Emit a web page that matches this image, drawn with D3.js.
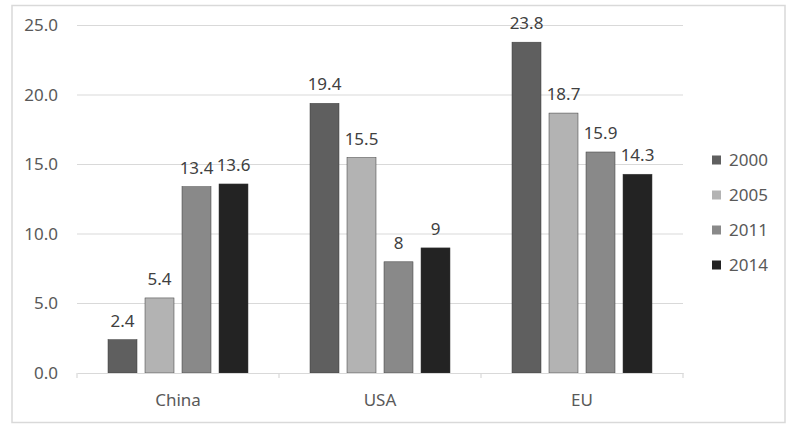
<!DOCTYPE html>
<html>
<head>
<meta charset="utf-8">
<script src="https://cdn.jsdelivr.net/npm/d3@7"></script>
<style>
  body { margin: 0; background: #fff; }
  text { font-family: "Noto Sans", "Open Sans", sans-serif; }
</style>
</head>
<body>
<div class="chart"></div>
<script>
var regions = ["China", "USA", "EU"];
var years = ["2000", "2005", "2011", "2014"];
var v2000 = [2.4, 19.4, 23.8];
var v2005 = [5.4, 15.5, 18.7];
var v2011 = [13.4, 8, 15.9];
var v2014 = [13.6, 9, 14.3];
var yTicks = [0, 5, 10, 15, 20, 25];
var colors = ["#5f5f5f", "#b3b3b3", "#898989", "#232323"];

var series = [v2000, v2005, v2011, v2014];

var svgWidth = 800, svgHeight = 431;
var margin = {top: 25.5, left: 77, right: 117, bottom: 58};
var width = svgWidth - margin.left - margin.right;
var height = svgHeight - margin.top - margin.bottom;
var fs = 17;

var svg = d3.select(".chart").append("svg")
  .attr("width", svgWidth)
  .attr("height", svgHeight);

// chart border
svg.append("rect")
  .attr("x", 12).attr("y", 5.5)
  .attr("width", 773).attr("height", 417)
  .attr("fill", "#fff")
  .attr("stroke", "#d9d9d9")
  .attr("stroke-width", 1.5);

var chart = svg.append("g")
  .attr("transform", "translate(" + margin.left + "," + margin.top + ")");

var x0 = d3.scaleBand().domain(regions).range([0, width]);
var x1 = d3.scaleBand().domain(years)
  .range([31, x0.bandwidth() - 31 + 8])
  .paddingInner(0);
var y = d3.scaleLinear().domain([0, 25]).range([height, 0]);

// gridlines
chart.selectAll(".grid").data(yTicks.slice(1)).enter().append("line")
  .attr("x1", 0).attr("x2", width)
  .attr("y1", function(d) { return y(d); })
  .attr("y2", function(d) { return y(d); })
  .attr("stroke", "#d9d9d9").attr("stroke-width", 1);

// y labels
chart.selectAll(".ylab").data(yTicks).enter().append("text")
  .attr("x", -19)
  .attr("y", function(d) { return y(d); })
  .attr("dy", "0.35em")
  .attr("text-anchor", "end")
  .attr("fill", "#595959")
  .attr("font-size", fs)
  .text(function(d) { return d3.format(".1f")(d); });

// bars
var groups = chart.selectAll(".grp").data(regions).enter().append("g")
  .attr("transform", function(d) { return "translate(" + x0(d) + ",0)"; });

groups.each(function(r, i) {
  var g = d3.select(this);
  years.forEach(function(yr, j) {
    var val = series[j][i];
    g.append("rect")
      .attr("x", x1(yr))
      .attr("width", x1.bandwidth() - 8)
      .attr("y", y(val))
      .attr("height", y(0) - y(val))
      .attr("fill", colors[j])
      .attr("stroke", "#3a3a3a")
      .attr("stroke-width", 0.5);
    g.append("text")
      .attr("x", x1(yr) + (x1.bandwidth() - 8) / 2)
      .attr("y", y(val) - 13)
      .attr("text-anchor", "middle")
      .attr("fill", "#404040")
      .attr("font-size", fs)
      .text(val);
  });
});

// x axis
var xAxis = d3.axisBottom(x0).tickSize(0).tickPadding(21);
var gx = chart.append("g")
  .attr("transform", "translate(0," + height + ")")
  .call(xAxis);
gx.attr("font-size", fs).attr("font-family", null);
gx.select(".domain").attr("stroke", "#d9d9d9").attr("stroke-width", 1.2);
gx.selectAll("text")
  .attr("fill", "#595959")
  .attr("font-size", fs);
var bounds = regions.map(function(d) { return x0(d); }).concat([width]);
chart.selectAll(".xt").data(bounds).enter().append("line")
  .attr("x1", function(d) { return d; })
  .attr("x2", function(d) { return d; })
  .attr("y1", height).attr("y2", height + 5)
  .attr("stroke", "#d9d9d9").attr("stroke-width", 1.2);

// legend
var legend = svg.selectAll(".leg").data(years).enter().append("g")
  .attr("transform", function(d, i) { return "translate(712," + (160 + i * 35) + ")"; });
legend.append("rect")
  .attr("x", 0).attr("y", -4.5)
  .attr("width", 9).attr("height", 9)
  .attr("fill", function(d, i) { return colors[i]; });
legend.append("text")
  .attr("x", 17).attr("y", 0)
  .attr("dy", "0.35em")
  .attr("fill", "#595959")
  .attr("font-size", fs)
  .text(function(d) { return d; });
</script>
</body>
</html>
